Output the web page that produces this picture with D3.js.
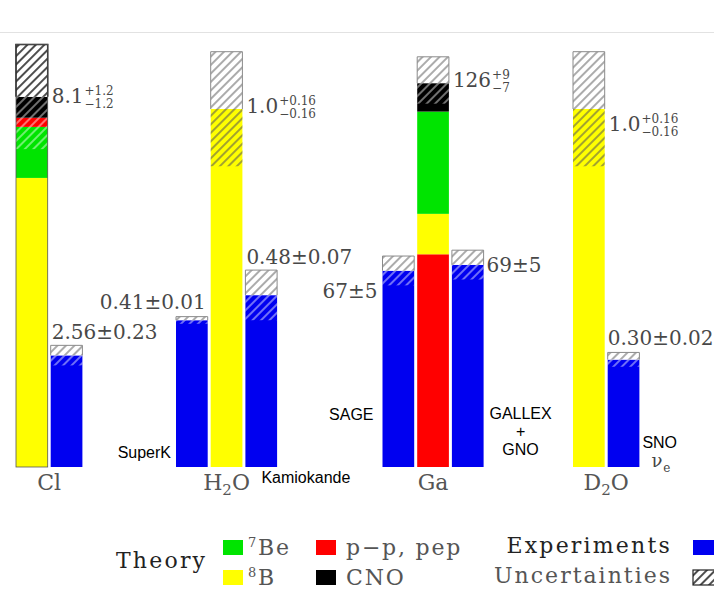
<!DOCTYPE html>
<html><head><meta charset="utf-8">
<script src="https://cdn.jsdelivr.net/npm/d3@7"></script>
<style>body{margin:0;background:#fff} svg{display:block}</style>
</head><body>
<svg id="c" width="714" height="591"></svg>
<script>
// ---------------- data ----------------
const panels = ["Cl", "H2O", "Ga", "D2O"];
const panelLabelParts = [[["Cl", false]], [["H", false], ["2", true], ["O", false]], [["Ga", false]], [["D", false], ["2", true], ["O", false]]];

// theory stacks, bottom to top: [component, value]
const theoryCl  = [["8B", 6.63], ["7Be", 1.17], ["pp", 0.21], ["CNO", 0.48]];
const theoryH2O = [["8B", 1.0]];
const theoryGa  = [["pp", 72.6], ["8B", 13.8], ["7Be", 34.9], ["CNO", 9.7]];
const theoryD2O = [["8B", 1.0]];
const theoryLabels   = ["8.1", "1.0", "126", "1.0"];
const theoryErrPlus  = [1.2, 0.16, 9, 0.16];
const theoryErrMinus = [1.2, 0.16, 7, 0.16];
const theoryErrText  = [["+1.2", "\u22121.2"], ["+0.16", "\u22120.16"], ["+9", "\u22127"], ["+0.16", "\u22120.16"]];

// experiments
const expPanel  = ["Cl", "H2O", "H2O", "Ga", "Ga", "D2O"];
const expNames  = [[], ["SuperK"], ["Kamiokande"], ["SAGE"], ["GALLEX", "+", "GNO"], ["SNO"]];
const expValues = [2.56, 0.41, 0.48, 67, 69, 0.30];
const expErrors = [0.23, 0.01, 0.07, 5, 5, 0.02];
const expLabels = ["2.56\u00b10.23", "0.41\u00b10.01", "0.48\u00b10.07", "67\u00b15", "69\u00b15", "0.30\u00b10.02"];

// legend
const legendTheory = [["7Be", "7", "Be"], ["pp", "", "p\u2212p, pep"], ["8B", "8", "B"], ["CNO", "", "CNO"]];

// ---------------- layout / style ----------------
const W = 714, H = 591, BASE = 467, STEP = 34.7, GAP = 3;
const layout = {
  Cl:  {left: 16,    top: 44.5, order: ["T", 0],    tdy: 6.5},
  H2O: {left: 176,   top: 51.7, order: [1, "T", 2], tdy: 4},
  Ga:  {left: 382.5, top: 56.8, order: [3, "T", 4], tdy: 4},
  D2O: {left: 573,   top: 51.7, order: ["T", 5],    tdy: 22}
};
const colorOf = {pp: "#ff0000", "7Be": "#00e400", "8B": "#ffff00", CNO: "#000000"};
const expColor = "#0000f0";
const numColor = "#484848";
const serif = "DejaVu Serif";
const sans = "Liberation Sans, Arial, sans-serif";

const svg = d3.select("#c");
const defs = svg.append("defs");
function hatch(id, color, sw, size) {
  const p = defs.append("pattern").attr("id", id).attr("patternUnits", "userSpaceOnUse")
    .attr("width", size).attr("height", size).attr("patternTransform", "rotate(45)");
  p.append("line").attr("x1", size / 2).attr("y1", -1).attr("x2", size / 2).attr("y2", size + 1)
    .attr("stroke", color).attr("stroke-width", sw);
}
hatch("h-dark", "#666", 1.1, 6);
hatch("h-black", "#111", 1.5, 6);
hatch("h-white", "#ffffff", 1.1, 6);
hatch("h-yel", "#555", 1.1, 6);

// top thin rule
svg.append("line").attr("x1", 0).attr("x2", W).attr("y1", 32.5).attr("y2", 32.5)
  .attr("stroke", "#e2e2e2").attr("stroke-width", 1);

function drawBar(g, x0, w, y, segs, val, ep, em, strong) {
  segs.forEach(s => g.append("rect").attr("x", x0).attr("width", w)
    .attr("y", y(s.b)).attr("height", y(s.a) - y(s.b)).attr("fill", s.color));
  const lo = val - em;
  segs.forEach(s => {
    const a = Math.max(s.a, lo), b = Math.min(s.b, val);
    if (b > a) g.append("rect").attr("x", x0).attr("width", w)
      .attr("y", y(b)).attr("height", y(a) - y(b))
      .attr("fill", s.color === "#ffff00" ? "url(#h-yel)" : "url(#h-white)")
      .attr("opacity", s.color === "#ffff00" ? 1 : 0.8);
  });
  const yt = y(val + ep), yv = y(val);
  g.append("rect").attr("x", x0).attr("width", w).attr("y", yt).attr("height", yv - yt).attr("fill", "#fff");
  g.append("rect").attr("x", x0).attr("width", w).attr("y", yt).attr("height", yv - yt)
    .attr("fill", strong ? "url(#h-black)" : "url(#h-dark)");
  const pth = d3.path();
  pth.moveTo(x0, yv); pth.lineTo(x0, yt); pth.lineTo(x0 + w, yt); pth.lineTo(x0 + w, yv);
  g.append("path").attr("d", pth.toString()).attr("fill", "none")
    .attr("stroke", strong ? "#111" : "#8a8a8a").attr("stroke-width", strong ? 1.5 : 1);
  if (strong) {
    g.append("rect").attr("x", x0).attr("width", w).attr("y", yt).attr("height", BASE - yt)
      .attr("fill", "none").attr("stroke", "#555").attr("stroke-width", 0.8);
  }
}

function numText(g, x, yb, txt, anchor) {
  return g.append("text").attr("x", x).attr("y", yb).attr("text-anchor", anchor || "start")
    .attr("font-family", serif).attr("font-size", 20).attr("fill", numColor).text(txt);
}

const stacks = [theoryCl, theoryH2O, theoryGa, theoryD2O];

panels.forEach((p, i) => {
  const L = layout[p];
  const ids = L.order.map(String);
  const x = d3.scaleBand().domain(ids)
    .range([L.left, L.left + ids.length * STEP - GAP]).paddingInner(GAP / STEP).paddingOuter(0);
  const stack = stacks[i];
  const total = d3.sum(stack, d => d[1]);
  const y = d3.scaleLinear().domain([0, total + theoryErrPlus[i]]).range([BASE, L.top]);
  const g = svg.append("g");
  const bw = x.bandwidth();

  // theory bar
  let acc = 0;
  const segs = stack.map(([c, v]) => { const s = {a: acc, b: acc + v, color: colorOf[c]}; acc += v; return s; });
  const tx = x("T");
  drawBar(g, tx, bw, y, segs, total, theoryErrPlus[i], theoryErrMinus[i], p === "Cl");

  // theory label
  const tyb = y(total) + L.tdy;
  const tl = numText(g, tx + bw + 4, tyb, theoryLabels[i]);
  const tw = tl.node().getComputedTextLength();
  g.append("text").attr("x", tx + bw + 5 + tw).attr("y", tyb - 8).attr("font-family", serif)
    .attr("font-size", 12).attr("fill", numColor).text(theoryErrText[i][0]);
  g.append("text").attr("x", tx + bw + 5 + tw).attr("y", tyb + 5).attr("font-family", serif)
    .attr("font-size", 12).attr("fill", numColor).text(theoryErrText[i][1]);

  // experiment bars
  expPanel.forEach((ep, k) => {
    if (ep !== p) return;
    const ex = x(String(k));
    const v = expValues[k], e = expErrors[k];
    drawBar(g, ex, bw, y, [{a: 0, b: v, color: expColor}], v, e, e, false);
    const top = y(v + e);
    // value labels
    if (k === 0) numText(g, ex + 1, top - 6, expLabels[k]);
    if (k === 1) numText(g, ex + bw - 2, top - 7.5, expLabels[k], "end");
    if (k === 2) numText(g, ex + 1, top - 6, expLabels[k]);
    if (k === 3) numText(g, ex - 5, y(v) + 27, expLabels[k], "end");
    if (k === 4) numText(g, ex + bw + 3, y(v) + 7, expLabels[k]);
    if (k === 5) numText(g, ex, top - 7, expLabels[k]);
    // name labels
    const nm = (xx, yy, t, anchor) => g.append("text").attr("x", xx).attr("y", yy)
      .attr("text-anchor", anchor).attr("font-family", sans).attr("font-size", 16).attr("fill", "#000").text(t);
    if (k === 1) nm(ex - 5, 458, expNames[k][0], "end");
    if (k === 2) nm(ex + 16, 483, expNames[k][0], "start");
    if (k === 3) nm(ex - 9, 420, expNames[k][0], "end");
    if (k === 4) expNames[k].forEach((t, j) => nm(ex + bw + 37, 419 + j * 18, t, "middle"));
    if (k === 5) {
      nm(ex + bw + 3, 448, expNames[k][0], "start");
      const nu = g.append("text").attr("x", ex + bw + 12).attr("y", 467).attr("font-family", serif)
        .attr("font-size", 18).attr("fill", "#444");
      nu.append("tspan").text("\u03bd");
      nu.append("tspan").attr("font-size", 12).attr("dy", 5).attr("dx", 1).text("e");
    }
  });

  // panel label
  const cx = L.left + (ids.length * STEP - GAP) / 2;
  const pl = g.append("text").attr("x", cx).attr("y", 495).attr("text-anchor", "middle")
    .attr("font-family", serif).attr("font-size", 22).attr("fill", "#555");
  panelLabelParts[i].forEach(([t, sub]) => {
    if (sub) pl.append("tspan").attr("font-size", 15).attr("dy", 5).text(t);
    else pl.append("tspan").attr("dy", pl.selectAll("tspan").size() > 0 ? -5 : 0).text(t);
  });
});

// ---------------- legend ----------------
const lg = svg.append("g");
lg.append("text").attr("x", 116).attr("y", 568).attr("font-family", serif).attr("font-size", 22)
  .attr("letter-spacing", 2.2).attr("fill", "#222").text("Theory");
const sw = 20, sh = 15;
const lx = [223, 316], ly = [540, 570];
legendTheory.forEach(([c, sup, t], j) => {
  const xx = lx[j % 2], yy = ly[Math.floor(j / 2)];
  lg.append("rect").attr("x", xx).attr("y", yy).attr("width", sw).attr("height", sh).attr("fill", colorOf[c]);
  const tt = lg.append("text").attr("x", xx + (sup ? 25 : 30)).attr("y", yy + 15).attr("font-family", serif)
    .attr("font-size", 22).attr("letter-spacing", 1.8).attr("fill", "#555");
  if (sup) tt.append("tspan").attr("font-size", 13).attr("dy", -8).text(sup);
  tt.append("tspan").attr("dy", sup ? 8 : 0).text(t);
});
lg.append("text").attr("x", 672).attr("y", 553).attr("text-anchor", "end").attr("font-family", serif)
  .attr("font-size", 22).attr("letter-spacing", 2.2).attr("fill", "#222").text("Experiments");
lg.append("text").attr("x", 672).attr("y", 583).attr("text-anchor", "end").attr("font-family", serif)
  .attr("font-size", 22).attr("letter-spacing", 2.0).attr("fill", "#555").text("Uncertainties");
lg.append("rect").attr("x", 693).attr("y", 540).attr("width", 22).attr("height", sh).attr("fill", expColor);
lg.append("rect").attr("x", 693).attr("y", 570).attr("width", 22).attr("height", sh).attr("fill", "#fff");
lg.append("rect").attr("x", 693).attr("y", 570).attr("width", 22).attr("height", sh)
  .attr("fill", "url(#h-black)").attr("stroke", "#222").attr("stroke-width", 1.2);
</script>
</body></html>
